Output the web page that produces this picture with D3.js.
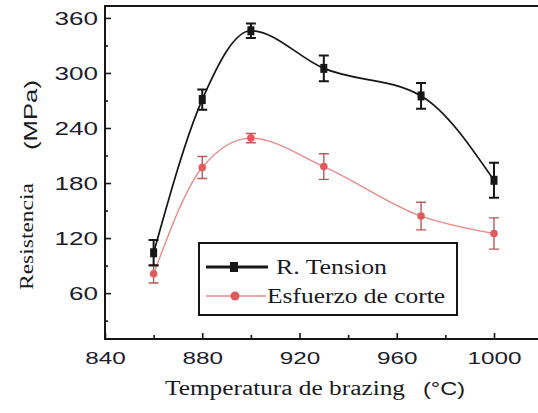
<!DOCTYPE html>
<html>
<head>
<meta charset="utf-8">
<script src="https://cdn.jsdelivr.net/npm/d3@7"></script>
<style>
	body { margin: 0; background: #fff; }
	svg { display: block; }
</style>
</head>
<body>
<div id="chart"></div>
<script>
// values
const temps = [860, 880, 900, 930, 970, 1000]
const tension = [104, 271, 346, 305, 275, 183]
const tensionErr = [14, 11, 8, 14, 14, 19]
const corte = [81, 197, 229, 198, 144, 125]
const corteErr = [10, 12, 5, 14, 15, 17]
const xTicks = [840, 880, 920, 960, 1000]
const xMinor = [860, 900, 940, 980]
const yTicks = [60, 120, 180, 240, 300, 360]
const yMinor = [30, 90, 150, 210, 270, 330]
const seriesNames = ['R. Tension', 'Esfuerzo de corte']

const W = 538, H = 413
const black = '#161616', red = '#e05b5b', redLine = '#e88a8a', redBar = '#b85a5a'

const svg = d3.select('#chart').append('svg')
	.attr('width', W)
	.attr('height', H)

const x = d3.scaleLinear().domain([840, 1000]).range([105, 494])
const y = d3.scaleLinear().domain([10, 373]).range([339, 6])

// frame (right side falls outside the picture)
svg.append('path')
	.attr('d', `M${W},${y(373)}H${x(840)}V${y(10)}H${W}`)
	.attr('fill', 'none')
	.attr('stroke', black)
	.attr('stroke-width', 2)

// X axis, ticks pointing inward
const xAxis = svg.append('g')
	.attr('transform', `translate(0,${y(10)})`)
	.call(d3.axisBottom(x).tickValues(xTicks).tickSize(-6).tickPadding(13)
		.tickFormat(d3.format('d')))
svg.append('g')
	.attr('transform', `translate(0,${y(10)})`)
	.call(d3.axisBottom(x).tickValues(xMinor).tickSize(-4).tickFormat(''))
	.call(g => g.select('.domain').remove())

xAxis.select('.domain').remove()
xAxis.selectAll('text')
	.attr('font-family', '"Liberation Sans", Arial, sans-serif')
	.attr('font-size', 17)
	.attr('fill', '#1c1c2a')
	.attr('textLength', d => String(d).length * 13.5)
	.attr('lengthAdjust', 'spacingAndGlyphs')

// Y axis
const yAxis = svg.append('g')
	.attr('transform', `translate(${x(840)},0)`)
	.call(d3.axisLeft(y).tickValues(yTicks).tickSize(-6).tickPadding(7))
svg.append('g')
	.attr('transform', `translate(${x(840)},0)`)
	.call(d3.axisLeft(y).tickValues(yMinor).tickSize(-3).tickFormat(''))
	.call(g => g.select('.domain').remove())

yAxis.select('.domain').remove()
yAxis.selectAll('text')
	.attr('font-family', '"Liberation Sans", Arial, sans-serif')
	.attr('font-size', 19)
	.attr('fill', '#1c1c2a')
	.attr('textLength', d => String(d).length * 14.5)
	.attr('lengthAdjust', 'spacingAndGlyphs')

svg.selectAll('.tick line')
	.attr('stroke', black)
	.attr('stroke-width', 1.6)

// curves
const line = d3.line()
	.x(d => x(d[0]))
	.y(d => y(d[1]))
	.curve(d3.curveMonotoneX)

svg.append('path')
	.datum(d3.zip(temps, corte))
	.attr('d', line)
	.attr('fill', 'none')
	.attr('stroke', redLine)
	.attr('stroke-width', 1.4)

svg.append('path')
	.datum(d3.zip(temps, tension))
	.attr('d', line)
	.attr('fill', 'none')
	.attr('stroke', black)
	.attr('stroke-width', 1.7)

// error bars + markers
function errorBars (vals, errs, color, w) {
	const g = svg.append('g')
	temps.forEach((t, i) => {
		const cx = x(t), lo = y(vals[i] - errs[i]), hi = y(vals[i] + errs[i])
		g.append('path')
			.attr('d', `M${cx},${hi}V${lo}M${cx - 5},${hi}H${cx + 5}M${cx - 5},${lo}H${cx + 5}`)
			.attr('fill', 'none')
			.attr('stroke', color)
			.attr('stroke-width', w)
	})
	return g
}

errorBars(corte, corteErr, redBar, 1.4)
svg.append('g').selectAll('circle')
	.data(d3.zip(temps, corte))
	.enter().append('circle')
	.attr('cx', d => x(d[0]))
	.attr('cy', d => y(d[1]))
	.attr('r', 3.8)
	.attr('fill', red)

errorBars(tension, tensionErr, black, 2)
svg.append('g').selectAll('rect')
	.data(d3.zip(temps, tension))
	.enter().append('rect')
	.attr('x', d => x(d[0]) - 3.5)
	.attr('y', d => y(d[1]) - 4.5)
	.attr('width', 7)
	.attr('height', 9)
	.attr('fill', black)

// Legend
const legend = svg.append('g')
legend.append('rect')
	.attr('x', 199)
	.attr('y', 243)
	.attr('width', 258)
	.attr('height', 72)
	.attr('fill', '#fff')
	.attr('stroke', black)
	.attr('stroke-width', 2)

legend.append('line')
	.attr('x1', 206).attr('x2', 268)
	.attr('y1', 267).attr('y2', 267)
	.attr('stroke', black).attr('stroke-width', 3)
legend.append('rect')
	.attr('x', 230).attr('y', 262)
	.attr('width', 8).attr('height', 10)
	.attr('fill', black)

legend.append('line')
	.attr('x1', 206).attr('x2', 266)
	.attr('y1', 296).attr('y2', 296)
	.attr('stroke', redLine).attr('stroke-width', 1.5)
legend.append('circle')
	.attr('cx', 235).attr('cy', 296)
	.attr('r', 4.5)
	.attr('fill', red)

legend.selectAll('text.label')
	.data(seriesNames)
	.enter().append('text')
	.attr('class', 'label')
	.attr('x', (d, i) => i ? 267 : 276)
	.attr('y', (d, i) => i ? 303 : 274)
	.attr('font-family', '"Liberation Serif", "Times New Roman", serif')
	.attr('font-size', 20)
	.attr('fill', '#1a1a22')
	.attr('textLength', (d, i) => i ? 178 : 111)
	.attr('lengthAdjust', 'spacingAndGlyphs')
	.text(d => d)

// Axis titles
svg.append('text')
	.attr('x', 165)
	.attr('y', 395)
	.attr('font-family', '"Liberation Serif", "Times New Roman", serif')
	.attr('font-size', 20)
	.attr('fill', '#1a1a22')
	.attr('textLength', 240)
	.attr('lengthAdjust', 'spacingAndGlyphs')
	.text('Temperatura de brazing')

svg.append('text')
	.attr('x', 423)
	.attr('y', 395)
	.attr('font-family', '"Liberation Sans", Arial, sans-serif')
	.attr('font-size', 19)
	.attr('fill', '#1a1a22')
	.attr('textLength', 42)
	.attr('lengthAdjust', 'spacingAndGlyphs')
	.text('(°C)')

svg.append('text')
	.attr('transform', 'translate(33,290) rotate(-90)')
	.attr('font-family', '"Liberation Serif", "Times New Roman", serif')
	.attr('font-size', 18)
	.attr('fill', '#1a1a22')
	.attr('textLength', 107)
	.attr('lengthAdjust', 'spacingAndGlyphs')
	.text('Resistencia')

svg.append('text')
	.attr('transform', 'translate(37,150) rotate(-90)')
	.attr('font-family', '"Liberation Sans", Arial, sans-serif')
	.attr('font-size', 19)
	.attr('fill', '#1a1a22')
	.attr('textLength', 70)
	.attr('lengthAdjust', 'spacingAndGlyphs')
	.text('(MPa)')
</script>
</body>
</html>
